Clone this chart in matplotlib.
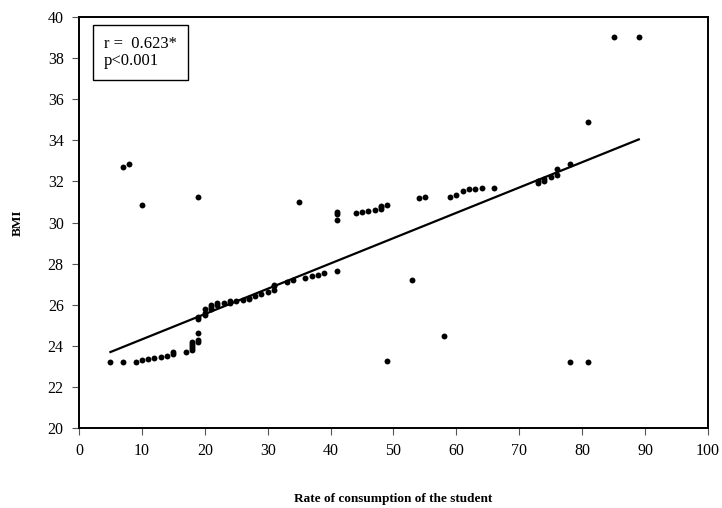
import matplotlib
matplotlib.use("Agg")
import matplotlib.pyplot as plt
import numpy as np

plt.rcParams['font.family'] = ['Liberation Serif', 'DejaVu Serif']

consumption = [5, 7, 9, 10, 11, 12, 13, 14, 15, 15, 17, 18, 18, 18, 18, 18, 19, 19, 19, 19, 19,
               20, 20, 20, 21, 21, 21, 22, 22, 23, 24, 24, 25, 26, 27, 27, 28, 29, 30, 31, 31, 31,
               33, 34, 36, 37, 38, 39, 41,
               7, 8, 10, 19, 35, 41, 41, 41, 44, 45, 46, 47, 48, 48, 48, 49, 53, 54, 55, 58, 49,
               59, 60, 61, 62, 63, 64, 66, 73, 73, 74, 74, 75, 76, 76, 78, 81, 85, 89, 78, 81]
bmi = [23.2, 23.2, 23.2, 23.3, 23.35, 23.4, 23.45, 23.5, 23.6, 23.7, 23.7, 23.8, 23.9, 24.0, 24.1, 24.2,
       24.2, 24.3, 24.6, 25.3, 25.4, 25.5, 25.6, 25.8, 25.8, 25.9, 26.0, 26.1, 26.0, 26.1, 26.1, 26.2,
       26.2, 26.25, 26.3, 26.35, 26.4, 26.5, 26.6, 26.7, 26.9, 26.95,
       27.1, 27.2, 27.3, 27.4, 27.45, 27.55, 27.65,
       32.7, 32.85, 30.85, 31.25, 31.0, 30.1, 30.4, 30.5, 30.45, 30.5, 30.55, 30.6, 30.65, 30.75, 30.8,
       30.85, 27.2, 31.2, 31.25, 24.5, 23.25,
       31.25, 31.35, 31.55, 31.65, 31.65, 31.7, 31.7, 31.9, 32.0, 32.0, 32.1, 32.2, 32.3, 32.6, 32.85,
       34.9, 39.05, 39.05, 23.2, 23.2]

trend_slope = 0.1232
trend_intercept = 23.08
annotation = "r =  0.623*\np<0.001"
x_label = "Rate of consumption of the student"
y_label = "BMI"

fig = plt.figure(figsize=(7.22, 5.08), dpi=100)
ax = fig.add_axes([0.1094, 0.1575, 0.8712, 0.809])

ax.scatter(consumption, bmi, s=18, color='black', zorder=3, linewidths=0)
xs = np.array([min(consumption), max(consumption)])
ax.plot(xs, trend_intercept + trend_slope * xs, color='black', lw=1.6, zorder=2)

ax.set_xlim(0, 100)
ax.set_ylim(20, 40)
ax.set_xticks(np.arange(0, 101, 10))
ax.set_yticks(np.arange(20, 41, 2))
ax.tick_params(axis='both', direction='out', length=5, width=0.8, color='#555555',
               labelsize=11.5, pad=6)
for sp in ax.spines.values():
    sp.set_linewidth(1.4)
    sp.set_color('black')

ax.set_xlabel(x_label, fontsize=9.5, fontweight='bold', labelpad=24)
ax.set_ylabel(y_label, fontsize=9.5, fontweight='bold', labelpad=17)

ax.text(0.040, 0.955, annotation, transform=ax.transAxes, fontsize=12, va='top', ha='left',
        linespacing=1.1,
        bbox=dict(boxstyle='square,pad=0.65', facecolor='white', edgecolor='black', linewidth=1.0))

fig.savefig("out.png", dpi=100)
